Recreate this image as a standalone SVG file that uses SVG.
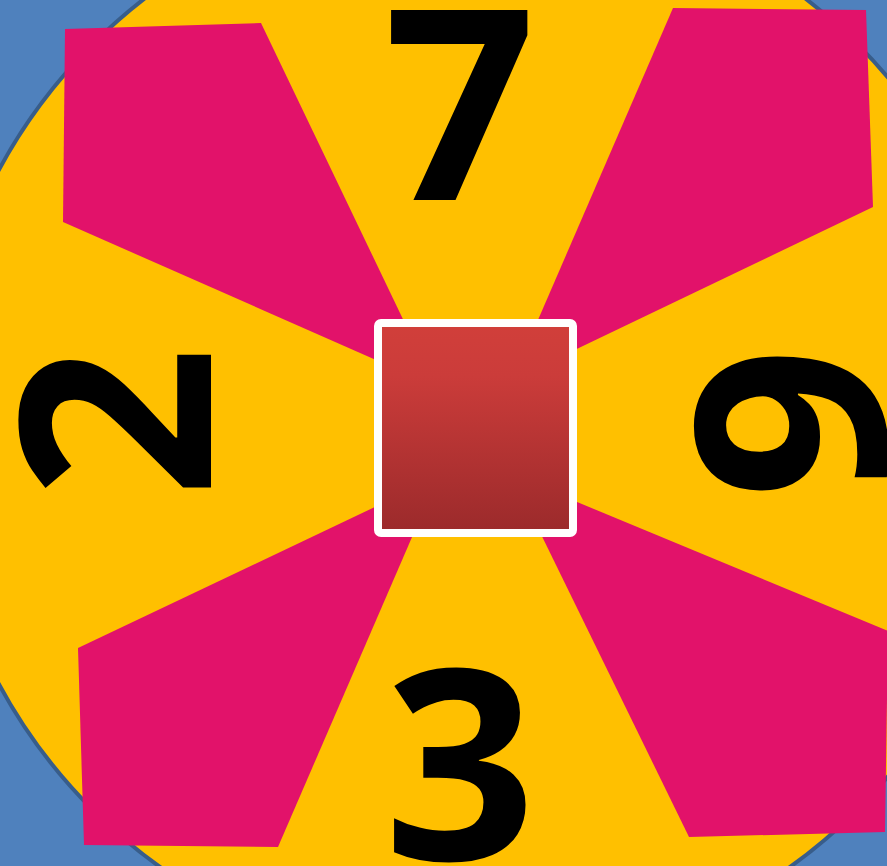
<svg xmlns="http://www.w3.org/2000/svg" width="887" height="866" viewBox="0 0 887 866">
<defs>
<style>
.petal{fill:#E2126A;}
.digit{font-family:"Open Sans","Liberation Sans",sans-serif;font-weight:700;font-size:266px;fill:#000;text-anchor:middle;}
</style>
<linearGradient id="sq" x1="0" y1="0" x2="0" y2="1">
<stop offset="0" stop-color="#D13F3A"/>
<stop offset="0.25" stop-color="#CB3C3A"/>
<stop offset="1" stop-color="#9B2A2B"/>
</linearGradient>
</defs>
<rect width="887" height="866" fill="#4F81BD"/>
<g id="disc">
<circle cx="475" cy="427" r="541" fill="#FFC000" stroke="#385D8A" stroke-width="4"/>
</g>
<g id="petal-tl"><polygon class="petal" points="65,29 261,23 435,386 63,222"/></g>
<g id="petal-tr"><polygon class="petal" points="673,8 866,10 873,207 512,380"/></g>
<g id="petal-bl"><polygon class="petal" points="78,648 438,477 278,847 84,845"/></g>
<g id="petal-br"><polygon class="petal" points="512,475 888,631 885,832 689,837"/></g>
<g id="digit-7"><text class="digit" x="460" y="200">7</text></g>
<g id="digit-3"><text class="digit" x="460" y="860">3</text></g>
<g id="digit-2"><text class="digit" transform="translate(211,422) rotate(-90)" x="0" y="0">2</text></g>
<g id="digit-9"><text class="digit" transform="translate(886,423) rotate(-90)" x="0" y="0">9</text></g>
<g id="center">
<rect x="378" y="323" width="195" height="210" rx="3" fill="url(#sq)" stroke="#FFFFFF" stroke-width="8"/>
</g>
</svg>
